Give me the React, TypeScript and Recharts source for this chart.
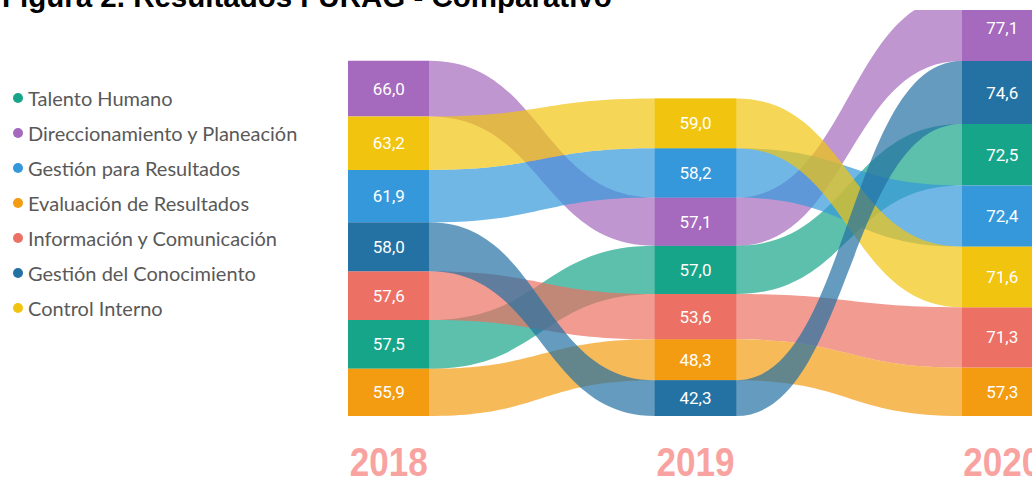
import { ComposedChart, Area, XAxis, YAxis, ReferenceArea } from "recharts";

const YEARS = ["2018", "2019", "2020"];

const CATEGORIES = [
    "Talento Humano",
    "Direccionamiento y Planeación",
    "Gestión para Resultados",
    "Evaluación de Resultados",
    "Información y Comunicación",
    "Gestión del Conocimiento",
    "Control Interno",
];

const COLORS = [
    "#17A589", // teal
    "#A569BD", // purple
    "#3498DB", // blue
    "#F39C12", // orange
    "#EC7063", // salmon
    "#2471A3", // dark blue
    "#F1C40F", // yellow
];

const SCORES_2018 = [57.5, 66.0, 61.9, 55.9, 57.6, 58.0, 63.2];
const SCORES_2019 = [57.0, 57.1, 58.2, 48.3, 53.6, 42.3, 59.0];
const SCORES_2020 = [72.5, 77.1, 72.4, 57.3, 71.3, 74.6, 71.6];
const SCORES = [SCORES_2018, SCORES_2019, SCORES_2020];

// box width, as a share of the step between two years
const BOX_W = 0.266;

// stack one year, smallest value at the bottom
const stackYear = (vals: number[]) => {
    const order = vals.map((_, i) => i).sort((a, b) => vals[a] - vals[b]);
    const out: [number, number][] = new Array(vals.length);
    let acc = 0;
    order.forEach((i) => {
        out[i] = [acc, acc + vals[i]];
        acc += vals[i];
    });
    return out;
};

const stacks = SCORES.map(stackYear);

// flow edges: right side of one box to left side of the next
const flowPoints = [
    { x: BOX_W, year: 0 },
    { x: 1, year: 1 },
    { x: 1 + BOX_W, year: 1 },
    { x: 2, year: 2 },
];

const flowData = flowPoints.map((p) => {
    const row: Record<string, any> = { x: p.x };
    CATEGORIES.forEach((_, c) => {
        row[`c${c}`] = stacks[p.year][c];
    });
    return row;
});

const fmt = (v: number) => v.toFixed(1).replace(".", ",");

// purple first so the others sit over it
const DRAW_ORDER = [1, 0, 4, 3, 2, 6, 5];

// narrow bold year label, squeezed to the box width
const YearTick = (props: any) => {
    const { x, y, index } = props;
    return (
        <text
            x={x}
            y={y + 29}
            textAnchor="middle"
            textLength={78}
            lengthAdjust="spacingAndGlyphs"
            fill="#F9A3A0"
            fontSize={41}
            fontWeight={700}
            fontFamily="'Liberation Sans', Arial, sans-serif"
        >
            {YEARS[index]}
        </text>
    );
};

const App = () => {
    return (
        <div
            style={{
                position: "absolute",
                left: 0,
                top: 0,
                width: 1032,
                height: 483,
                overflow: "hidden",
                background: "#fff",
            }}
        >
            <div
                style={{
                    position: "absolute",
                    left: 2,
                    top: -18,
                    fontFamily: "'Liberation Sans', Arial, sans-serif",
                    fontWeight: 700,
                    fontSize: 29.5,
                    lineHeight: 1,
                    whiteSpace: "nowrap",
                    color: "#000",
                }}
            >
                Figura 2. Resultados FURAG - Comparativo
            </div>

            <div style={{ position: "absolute", left: 13, top: 80 }}>
                {CATEGORIES.map((name, i) => (
                    <div
                        key={name}
                        style={{
                            display: "flex",
                            alignItems: "center",
                            height: 35,
                            fontFamily: "Lato, sans-serif",
                            fontSize: 20,
                            color: "#595959",
                            whiteSpace: "nowrap",
                        }}
                    >
                        <span
                            style={{
                                width: 10,
                                height: 10,
                                borderRadius: "50%",
                                background: COLORS[i],
                                marginRight: 5,
                                display: "inline-block",
                            }}
                        />
                        {name}
                    </div>
                ))}
            </div>

            <div style={{ position: "absolute", left: 0, top: 0 }}>
                <ComposedChart
                    width={1043}
                    height={483}
                    data={flowData}
                    margin={{ top: 10, right: 0, bottom: 0, left: 348 }}
                >
                    <XAxis
                        type="number"
                        dataKey="x"
                        domain={[0, 2 + BOX_W]}
                        ticks={YEARS.map((_, i) => i + BOX_W / 2)}
                        axisLine={false}
                        tickLine={false}
                        tickMargin={25}
                        height={67}
                        tick={<YearTick />}
                    />
                    <YAxis hide type="number" domain={[0, 480]} allowDataOverflow />

                    {DRAW_ORDER.map((c) => (
                        <Area
                            key={CATEGORIES[c]}
                            dataKey={`c${c}`}
                            name={CATEGORIES[c]}
                            type="bumpX"
                            fill={COLORS[c]}
                            fillOpacity={0.7}
                            stroke="none"
                            dot={false}
                            activeDot={false}
                            isAnimationActive={false}
                        />
                    ))}

                    {SCORES.map((vals, y) =>
                        vals.map((v, c) => (
                            <ReferenceArea
                                key={`${y}-${c}`}
                                x1={y}
                                x2={y + BOX_W}
                                y1={stacks[y][c][0]}
                                y2={stacks[y][c][1]}
                                fill={COLORS[c]}
                                fillOpacity={1}
                                stroke="none"
                                ifOverflow="hidden"
                                label={{
                                    value: fmt(v),
                                    position: "center",
                                    fill: "#fff",
                                    fontSize: 17,
                                    fontFamily: "Roboto, sans-serif",
                                }}
                            />
                        ))
                    )}
                </ComposedChart>
            </div>
        </div>
    );
};

export default App;
